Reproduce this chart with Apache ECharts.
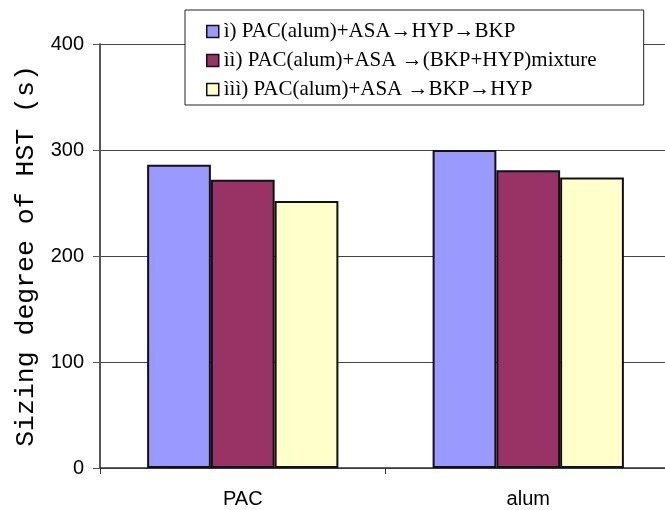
<!DOCTYPE html>
<html>
<head>
<meta charset="utf-8">
<script src="https://cdn.jsdelivr.net/npm/echarts@6/dist/echarts.min.js"></script>
<style>
    html, body {
        margin: 0;
        padding: 0;
        background: #fff;
    }

    #chart {
        width: 665px;
        height: 510px;
    }
</style>
</head>
<body>
<div id="chart"></div>
<script>
    // 数据
    const categories = ["PAC", "alum"]
    const seriesNames = [
        "ì) PAC(alum)+ASA→HYP→BKP",
        "ìì) PAC(alum)+ASA →(BKP+HYP)mixture",
        "ììì) PAC(alum)+ASA →BKP→HYP"
    ]
    const route1 = [286, 300]
    const route2 = [272, 281]
    const route3 = [252, 274]
    const yTicks = [0, 100, 200, 300, 400]

    const colors = ["#9999FF", "#993366", "#FFFFCC"]

    const chart = echarts.init(document.getElementById("chart"), null, {renderer: "canvas"})

    const barStyle = color => ({
        color: color,
        borderColor: "#111",
        borderWidth: 2
    })

    const option = {
        animation: false,
        grid: {
            left: 100,
            top: 44,
            width: 571,
            height: 424,
            outerBoundsMode: "none"
        },
        legend: {
            orient: "vertical",
            left: 185,
            top: 10,
            padding: [11, 47, 5, 21],
            itemGap: 8,
            itemWidth: 12,
            itemHeight: 12,
            backgroundColor: "#fff",
            borderColor: "#222",
            borderWidth: 1,
            borderRadius: 0,
            icon: "rect",
            itemStyle: {
                borderColor: "#111",
                borderWidth: 1.5
            },
            textStyle: {
                fontFamily: "Liberation Serif",
                fontSize: 21,
                lineHeight: 21,
                color: "#000"
            },
            data: seriesNames
        },
        xAxis: {
            type: "category",
            data: categories,
            axisLine: {
                lineStyle: {color: "#333", width: 1.5}
            },
            axisTick: {
                show: true,
                length: 6,
                lineStyle: {color: "#333"}
            },
            axisLabel: {
                margin: 21,
                fontFamily: "Liberation Sans",
                fontSize: 20,
                color: "#000"
            }
        },
        yAxis: {
            type: "value",
            min: yTicks[0],
            max: yTicks[yTicks.length - 1],
            interval: 100,
            name: "Sizing degree of HST (s)",
            nameLocation: "middle",
            nameGap: 61,
            nameTextStyle: {
                fontFamily: "Liberation Mono",
                fontSize: 26.5,
                color: "#000"
            },
            axisLine: {
                show: true,
                lineStyle: {color: "#555", width: 2}
            },
            axisTick: {
                show: true,
                length: 7,
                lineStyle: {color: "#555"}
            },
            axisLabel: {
                margin: 16,
                fontFamily: "Liberation Sans",
                fontSize: 20,
                color: "#000"
            },
            splitLine: {
                lineStyle: {color: "#444", width: 1}
            }
        },
        series: [
            {
                name: seriesNames[0],
                type: "bar",
                barGap: "0%",
                barCategoryGap: "33%",
                itemStyle: barStyle(colors[0]),
                data: route1
            },
            {
                name: seriesNames[1],
                type: "bar",
                barGap: "0%",
                barCategoryGap: "33%",
                itemStyle: barStyle(colors[1]),
                data: route2
            },
            {
                name: seriesNames[2],
                type: "bar",
                barGap: "0%",
                barCategoryGap: "33%",
                itemStyle: barStyle(colors[2]),
                data: route3
            }
        ]
    }

    chart.setOption(option)
</script>
</body>
</html>
